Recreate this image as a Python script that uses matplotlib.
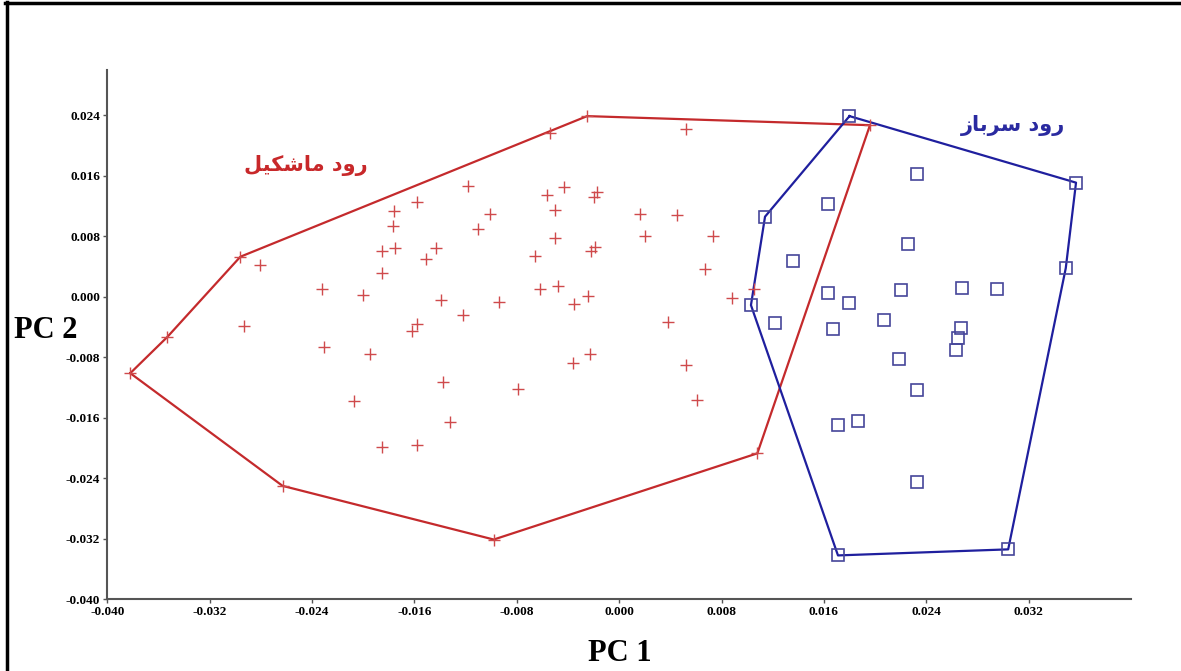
import numpy as np
import matplotlib.pyplot as plt
from matplotlib.lines import Line2D

# PCA scores
# group 1: Mashkil river (red crosses)
mashkil_x = [-0.0382, -0.0353, -0.0296, -0.0025, 0.0196, 0.0108, -0.0098, -0.0263,
             -0.0281, -0.0054, -0.0293, -0.0232, -0.0200, -0.0231, -0.0195, -0.0185,
             -0.0185, -0.0175, -0.0177, -0.0176, -0.0158, -0.0151, -0.0143, -0.0139,
             -0.0158, -0.0162, -0.0122, -0.0118, -0.0101, -0.0110, -0.0094, -0.0066,
             -0.0056, -0.0043, -0.0050, -0.0050, -0.0062, -0.0048, -0.0035, -0.0024,
             -0.0020, -0.0017, -0.0022, -0.0019, -0.0036, -0.0023, -0.0138, -0.0079,
             -0.0207, -0.0132, -0.0185, -0.0158, 0.0052, 0.0016, 0.0045, 0.0020,
             0.0073, 0.0067, 0.0088, 0.0105, 0.0038, 0.0052, 0.0061]
mashkil_y = [-0.0101, -0.0053, 0.0053, 0.0239, 0.0227, -0.0207, -0.0321, -0.0250,
             0.0042, 0.0216, -0.0038, 0.0011, 0.0002, -0.0066, -0.0075, 0.0032,
             0.0061, 0.0065, 0.0094, 0.0113, 0.0125, 0.0050, 0.0064, -0.0004,
             -0.0036, -0.0045, -0.0024, 0.0146, 0.0109, 0.0090, -0.0007, 0.0054,
             0.0135, 0.0145, 0.0115, 0.0078, 0.0010, 0.0014, -0.0010, 0.0001,
             0.0132, 0.0139, 0.0061, 0.0066, -0.0088, -0.0076, -0.0113, -0.0122,
             -0.0138, -0.0166, -0.0199, -0.0196, 0.0222, 0.0109, 0.0108, 0.0081,
             0.0081, 0.0037, -0.0001, 0.0010, -0.0033, -0.0090, -0.0137]
mashkil_hull = [0, 1, 2, 3, 4, 5, 6, 7, 0]

# group 2: Sarbaz river (blue squares)
sarbaz_x = [0.0180, 0.0357, 0.0349, 0.0304, 0.0171, 0.0103, 0.0114,
            0.0233, 0.0163, 0.0226, 0.0136, 0.0163, 0.0180, 0.0220, 0.0268,
            0.0295, 0.0122, 0.0167, 0.0207, 0.0267, 0.0265, 0.0263, 0.0219,
            0.0233, 0.0171, 0.0187, 0.0233]
sarbaz_y = [0.0239, 0.0151, 0.0038, -0.0334, -0.0342, -0.0011, 0.0106,
            0.0162, 0.0123, 0.0070, 0.0047, 0.0005, -0.0008, 0.0009, 0.0012,
            0.0010, -0.0035, -0.0042, -0.0030, -0.0041, -0.0054, -0.0070, -0.0082,
            -0.0123, -0.0169, -0.0164, -0.0245]
sarbaz_hull = [0, 1, 2, 3, 4, 5, 6, 0]

label_mashkil = '\uFEDE\uFBFF\uFB91\uFEB7\uFE8E\uFEE3 \uFEA9\uFEED\uFEAD'   # رود ماشکیل
label_sarbaz = '\uFEAF\uFE8E\uFE91\uFEAE\uFEB3 \uFEA9\uFEED\uFEAD'          # رود سرباز

xticks = np.arange(-0.040, 0.0321, 0.008)
yticks = np.arange(-0.040, 0.0241, 0.008)

red_line = '#c42a2c'
red_mark = '#cf4a4c'
blue_line = '#1f1f9e'
blue_mark = '#46469a'

fig = plt.figure(figsize=(11.81, 6.71), dpi=100)
ax = fig.add_axes([0.0908, 0.1069, 0.8669, 0.7888])

mx = np.array(mashkil_x); my = np.array(mashkil_y)
sx = np.array(sarbaz_x); sy = np.array(sarbaz_y)

ax.plot(mx[mashkil_hull], my[mashkil_hull], color=red_line, lw=1.6, zorder=2)
ax.plot(sx[sarbaz_hull], sy[sarbaz_hull], color=blue_line, lw=1.6, zorder=2)
ax.plot(mx, my, ls='none', marker='+', ms=8.5, mew=1.0, color=red_mark, zorder=3)
ax.plot(sx, sy, ls='none', marker='s', ms=8, mew=1.2, mfc='none', mec=blue_mark, zorder=3)

ax.set_xlim(-0.040, 0.040)
ax.set_ylim(-0.040, 0.030)
ax.set_xticks(xticks)
ax.set_yticks(yticks)
ax.set_xticklabels([f'{v:.3f}' if abs(v) > 1e-9 else '0.000' for v in xticks])
ax.set_yticklabels([f'{v:.3f}' if abs(v) > 1e-9 else '0.000' for v in yticks])
for lab in ax.get_xticklabels() + ax.get_yticklabels():
    lab.set_family('Liberation Serif')
    lab.set_fontweight('bold')
    lab.set_fontsize(9.5)
ax.tick_params(axis='both', length=3, width=1, color='#555555', pad=2)

for side in ['top', 'right']:
    ax.spines[side].set_visible(False)
for side in ['left', 'bottom']:
    ax.spines[side].set_color('#555555')
    ax.spines[side].set_linewidth(1.5)

ax.text(-0.0245, 0.0174, label_mashkil, color='#c8282a', fontsize=15,
        family=['DejaVu Sans'], fontweight='bold', ha='center', va='center')
ax.text(0.0308, 0.0226, label_sarbaz, color='#2a2aa0', fontsize=15,
        family=['DejaVu Sans'], fontweight='bold', ha='center', va='center')

fig.text(0.039, 0.508, 'PC 2', family='Liberation Serif', fontweight='bold',
         fontsize=22, ha='center', va='center')
fig.text(0.525, 0.026, 'PC 1', family='Liberation Serif', fontweight='bold',
         fontsize=22, ha='center', va='center')

# black frame on the top and left edge of the picture
fig.add_artist(Line2D([0.006, 0.006], [0, 0.997], transform=fig.transFigure, color='black', lw=2.5))
fig.add_artist(Line2D([0.004, 1.0], [0.996, 0.996], transform=fig.transFigure, color='black', lw=2.5))

fig.savefig('out.png', dpi=100)
